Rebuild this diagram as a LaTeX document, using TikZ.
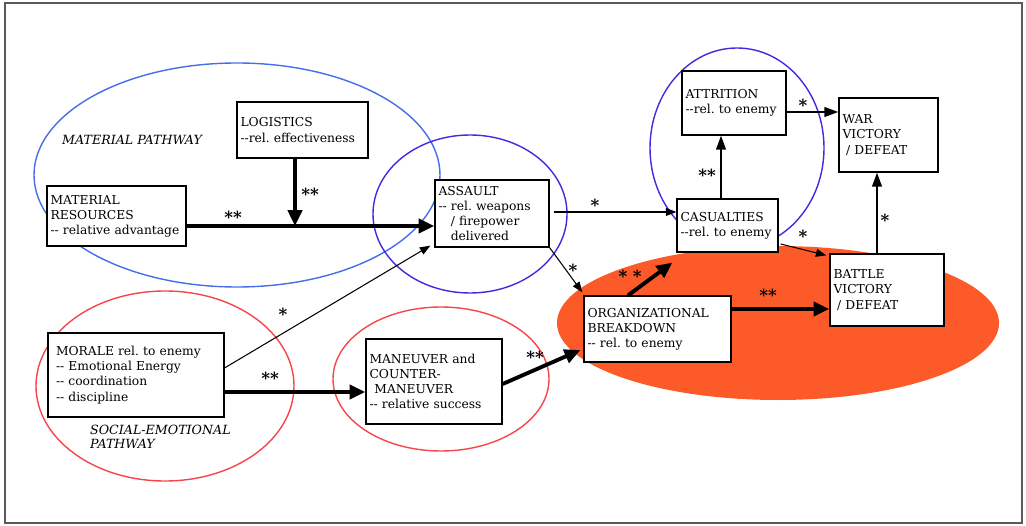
\documentclass[tikz,border=0pt]{standalone}
\usepackage{fontspec}
\setmainfont{DejaVu Serif}
\usetikzlibrary{arrows.meta,calc}
\definecolor{matblue}{RGB}{70,110,235}
\definecolor{fightblue}{RGB}{70,40,225}
\definecolor{socred}{RGB}{245,70,75}
\definecolor{breakorange}{RGB}{252,90,40}
\definecolor{framegray}{RGB}{90,90,90}
\newcommand{\dd}{-{}-}
\hyphenpenalty=10000
\frenchspacing
\tikzset{
  box/.style={draw,fill=white,line width=0.7pt,align=left,inner xsep=2pt,inner ysep=2pt,
    font=\fontsize{7}{8.6}\selectfont},
  pathway/.style={font=\fontsize{7.2}{8.2}\selectfont\itshape,align=left,anchor=west},
  star/.style={font=\fontsize{9.5}{9.5}\selectfont\bfseries,inner sep=0pt},
  strong/.style={line width=2.2pt,-{Triangle[length=9pt,width=8pt]}},
  medium/.style={line width=1.2pt,-{Triangle[length=8pt,width=5.5pt]}},
  weak/.style={line width=0.6pt,-{Triangle[length=6pt,width=4.5pt]}}
}
\begin{document}
\begin{tikzpicture}[x=0.02cm,y=-0.02cm]
  \useasboundingbox (0,0) rectangle (1026,526);
  \draw[framegray,line width=0.9pt] (5,3) rectangle (1022,523);
  % pathway ellipses
  \fill[breakorange] (778,323) ellipse [x radius=221,y radius=77];
  \draw[matblue,line width=0.8pt] (237,175) ellipse [x radius=203,y radius=112];
  \draw[fightblue,line width=0.8pt] (470,214) ellipse [x radius=97,y radius=79];
  \draw[fightblue,line width=0.8pt] (737,148) ellipse [x radius=87,y radius=100];
  \draw[socred,line width=0.8pt] (165,386) ellipse [x radius=129,y radius=95];
  \draw[socred,line width=0.8pt] (441,379) ellipse [x radius=108,y radius=72];
  \node[pathway] (matpath) at (56,140) {MATERIAL PATHWAY};
  \node[pathway] (socpath) at (84,437) {SOCIAL-EMOTIONAL\\PATHWAY};
  % boxes
  \node[box,text width=2.48cm,minimum height=1.12cm] (logis) at (302.5,130)
    {LOGISTICS\\\dd rel. effectiveness};
  \node[box,text width=2.64cm,minimum height=1.2cm] (matres) at (116.5,216)
    {MATERIAL\\RESOURCES\\\dd{} relative advantage};
  \node[box,text width=2.14cm,minimum height=1.34cm] (assault) at (492,213.5)
    {ASSAULT\\\dd{} rel. weapons\\\hspace*{1em}/ firepower\\\hspace*{1em}delivered};
  \node[box,text width=1.94cm,minimum height=1.28cm] (attr) at (734,103)
    {ATTRITION\\\dd rel. to enemy};
  \node[box,text width=1.84cm,minimum height=1.48cm] (war) at (888.5,135)
    {WAR\\VICTORY\\\hspace*{0.3em}/ DEFEAT};
  \node[box,text width=1.88cm,minimum height=1.06cm] (casual) at (727.5,225.5)
    {CASUALTIES\\\dd rel. to enemy};
  \node[box,text width=2.14cm,minimum height=1.44cm] (battle) at (887,290)
    {BATTLE\\VICTORY\\\hspace*{0.3em}/ DEFEAT};
  \node[box,text width=2.80cm,minimum height=1.32cm] (orgbr) at (657.5,329)
    {ORGANIZATIONAL\\BREAKDOWN\\\dd{} rel. to enemy};
  \node[box,inner xsep=4.5pt,text width=3.20cm,minimum height=1.68cm] (morale) at (136,375)
    {MORALE rel. to enemy\\\dd{} Emotional Energy\\\dd{} coordination\\\dd{} discipline};
  \node[box,text width=2.58cm,minimum height=1.70cm] (maneuv) at (434,381.5)
    {MANEUVER and\\COUNTER-\\\hspace*{0.4em}MANEUVER\\\dd{} relative success};
  % connectors
  \coordinate (join) at (295,226);
  \draw[strong] (matres.east |- join) -- (assault.west |- join);
  \draw[strong] (logis.south -| join) -- (join);
  \draw[weak] (morale.east |- 0,368) -- ($(assault.south west)+(-4,-2)$);
  \draw[strong] (morale.east |- 0,392) -- (maneuv.west |- 0,392);
  \draw[strong] (maneuv.east |- 0,384) -- ($(orgbr.west |- 0,350)+(-3,0)$);
  \draw[weak] ($(assault.east |- 0,212)+(4,0)$) -- (casual.west |- 0,212);
  \draw[weak] (assault.south east) -- ($(orgbr.north west)+(-1,-3)$);
  \draw[strong] (orgbr.north -| 628,0) -- ($(casual.south west)+(-4,10)$);
  \draw[strong] (orgbr.east |- 0,309) -- (battle.west |- 0,309);
  \draw[weak] ($(casual.east |- 0,244)+(2,0)$) -- ($(battle.north west)+(-3,2)$);
  \draw[medium] (casual.north -| 721,0) -- (attr.south -| 721,0);
  \draw[medium] (attr.east |- 0,112) -- (war.west |- 0,112);
  \draw[medium] (battle.north -| 877,0) -- (war.south -| 877,0);
  % significance marks
  \node[star] (s1) at (233,217) {**};
  \node[star] (s2) at (310,194) {**};
  \node[star] (s3) at (283,314) {*};
  \node[star] (s4) at (270,378) {**};
  \node[star] (s5) at (535,357) {**};
  \node[star] (s6) at (595,205) {*};
  \node[star] (s7) at (573,270) {*};
  \node[star] (s8) at (630,276) {*\,\,*};
  \node[star] (s9) at (768,295) {**};
  \node[star] (s10) at (803,236) {*};
  \node[star] (s11) at (707,175) {**};
  \node[star] (s12) at (803,105) {*};
  \node[star] (s13) at (885,220) {*};
\end{tikzpicture}
\end{document}
